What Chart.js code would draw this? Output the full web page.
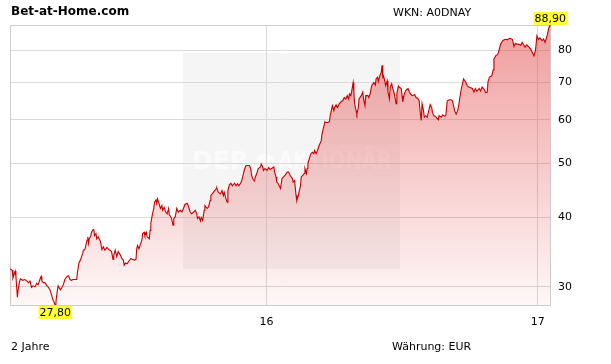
<!DOCTYPE html>
<html>
<head>
<meta charset="utf-8">
<script src="https://cdn.jsdelivr.net/npm/chart.js@4"></script>
<style>
  body { margin: 0; background: #fff; }
</style>
</head>
<body>
<canvas id="myChart" width="611" height="364"></canvas>
<script>
// day number counted from 1 Jan 2015
var days = [
  19,22,23,26,27,29,30,32,33,36,
  39,42,44,46,48,50,53,55,57,60,
  61,62,64,66,69,71,73,75,77,78,
  80,81,83,84,87,89,91,93,96,98,
  100,102,104,107,109,110,112,114,117,118,
  120,123,124,125,126,128,129,131,132,133,
  135,136,138,141,143,145,147,150,152,154,
  156,158,159,161,163,165,168,170,172,173,
  175,177,179,182,184,187,189,190,191,193,
  195,197,198,200,201,203,204,207,208,209,
  211,213,214,216,217,218,220,222,224,225,
  227,229,231,233,234,236,237,239,240,242,
  244,246,249,251,253,255,258,260,262,264,
  267,269,271,272,274,276,277,279,281,282,
  285,287,289,290,292,295,297,298,300,303,
  305,307,308,310,312,313,315,317,319,322,
  324,326,328,331,333,334,335,337,339,342,
  344,345,347,349,350,352,354,357,358,360,
  361,363,366,368,370,372,375,376,378,379,
  381,384,386,388,390,393,395,397,400,401,
  403,404,405,406,408,409,411,412,414,416,
  417,419,420,421,423,425,427,429,430,432,
  434,436,439,440,442,444,445,448,450,451,
  453,454,456,457,459,461,463,466,468,470,
  472,474,476,477,479,481,482,483,484,486,
  487,489,490,493,495,496,498,499,502,503,
  505,507,510,512,513,515,516,518,520,521,
  522,523,525,526,528,529,531,532,534,535,
  537,538,540,541,543,544,547,548,549,551,
  553,556,558,560,562,565,567,569,571,573,
  574,575,577,578,580,582,584,586,588,589,
  591,593,595,597,598,601,603,605,607,609,
  612,614,616,619,621,623,624,626,628,629,
  631,634,636,638,643,645,647,649,652,654,
  656,659,661,663,664,666,669,671,672,675,
  677,679,681,684,686,688,690,692,694,697,
  699,701,703,705,708,710,712,714,716,719,
  721,723,726,728,730,732,734,737,739,741,
  744,746,748
];

var prices = [
  32.3,32.1,31.1,32.0,31.3,28.7,29.6,30.7,31.0,30.8,
  30.9,30.7,30.5,30.7,29.9,30.1,30.0,30.4,30.25,31.1,
  31.3,30.7,30.5,30.5,30.1,29.9,29.6,29.0,28.4,28.2,
  27.8,28.2,29.6,30.1,29.6,29.9,30.25,30.9,31.3,31.4,
  30.9,30.8,30.9,30.9,30.9,31.8,33.1,33.5,34.4,34.9,
  35.0,36.4,36.9,35.9,36.6,37.0,37.6,38.0,38.1,37.1,
  37.4,36.6,36.9,36.2,35.0,35.4,34.9,35.3,35.0,34.9,
  34.7,33.6,34.2,34.9,34.0,34.7,34.2,33.7,33.5,32.8,
  33.1,33.0,33.3,33.7,33.6,33.5,33.6,35.1,35.6,35.1,
  35.8,36.4,37.4,37.6,37.1,37.6,36.9,36.6,37.9,39.0,
  40.4,41.5,42.6,43.0,42.4,43.2,42.4,41.5,42.0,41.2,
  41.7,40.9,40.6,41.5,40.4,40.1,39.8,38.7,39.8,40.1,
  41.5,40.9,41.2,40.9,41.5,42.2,42.4,41.8,40.9,40.6,
  40.9,41.2,40.6,39.8,40.1,39.4,40.0,39.5,41.2,42.0,
  41.5,41.8,42.9,43.8,44.1,44.7,45.0,45.2,44.4,44.1,
  44.7,43.8,44.4,43.4,42.6,44.7,45.8,46.1,45.6,46.1,
  45.6,46.0,45.6,46.3,47.3,48.0,48.6,49.5,49.6,49.6,
  48.9,47.6,46.8,46.5,47.3,48.0,49.0,49.3,49.9,49.3,
  48.6,49.0,48.6,49.2,48.8,49.0,49.3,48.3,47.3,46.3,
  46.0,45.1,47.0,47.3,47.6,48.3,48.3,47.6,47.0,46.3,
  46.6,45.1,43.8,42.9,43.8,44.4,45.6,47.3,47.6,48.0,
  49.0,48.0,49.0,50.1,51.1,52.1,52.4,52.1,52.8,52.1,
  52.8,53.9,55.0,56.5,58.0,59.5,59.3,59.3,59.5,61.0,
  62.7,63.6,62.3,63.1,63.8,63.1,64.0,64.7,64.9,65.8,
  65.4,66.3,65.4,66.8,66.3,68.7,70.0,67.3,64.1,62.3,
  61.4,63.1,65.4,66.3,67.3,65.4,63.6,66.3,66.3,65.8,
  66.8,69.1,70.0,69.3,71.1,71.6,70.3,72.0,73.1,75.2,
  71.6,72.0,70.1,69.1,70.5,67.3,65.4,68.7,69.7,68.7,
  67.3,66.3,64.1,66.8,69.0,68.7,68.3,66.3,64.6,66.8,
  67.7,68.3,67.3,66.6,66.3,66.6,65.8,65.6,64.9,61.0,
  59.8,64.1,62.3,60.6,61.0,60.6,62.3,63.9,63.1,61.9,
  61.0,60.9,60.4,60.0,61.0,60.6,61.2,60.9,61.0,64.9,
  65.2,65.2,64.9,62.3,61.4,62.3,63.1,65.8,68.3,69.1,
  71.1,70.1,69.1,68.7,68.3,67.3,68.3,67.5,68.3,67.6,
  68.7,68.0,67.1,67.3,70.3,71.6,72.0,73.8,77.2,78.4,
  78.6,80.1,82.2,83.4,83.6,83.8,83.6,84.0,84.1,83.7,
  81.3,82.4,82.1,82.1,81.7,82.7,81.9,81.1,81.9,81.2,
  80.6,79.7,78.2,79.9,85.0,83.7,84.3,83.3,83.9,82.7,
  85.3,87.8,88.9
];

var xTickDays = [365, 731];
var xTickLabels = ['16', '17'];
var yTicks = [30, 40, 50, 60, 70, 80];

var title = 'Bet-at-Home.com';
var wkn = 'WKN: A0DNAY';
var period = '2 Jahre';
var currency = 'Währung: EUR';

var points = days.map(function(d, i){
    return {x: d, y: prices[i]};
});

var minValue = Math.min.apply(null, prices);
var maxValue = Math.max.apply(null, prices);

function fmt(v) {
    return v.toFixed(2).replace('.', ',');
}

var font = '"DejaVu Sans", Verdana, sans-serif';

// grey box with the faint watermark behind the grid
var watermark = {
    id: 'watermark',
    beforeDraw: function(chart) {
        var c = chart.ctx;
        c.save();
        c.fillStyle = '#f5f5f5';
        c.fillRect(183, 53, 217, 216);
        c.fillStyle = 'rgba(255,255,255,0.6)';
        c.font = 'bold 25px ' + font;
        c.textBaseline = 'middle';
        c.fillText('DER', 192, 162);
        c.beginPath();
        c.arc(265, 162, 9, Math.PI, 0);
        c.fill();
        c.fillText('AKTIONÄR', 278, 162, 114);
        c.restore();
    }
};

var frame = {
    id: 'frame',
    beforeDatasetsDraw: function(chart) {
        var a = chart.chartArea;
        var c = chart.ctx;
        c.save();
        c.strokeStyle = '#cccccc';
        c.lineWidth = 1;
        c.strokeRect(Math.round(a.left) + 0.5, Math.round(a.top) + 0.5,
            Math.round(a.right - a.left) - 1, Math.round(a.bottom - a.top));
        c.restore();
    }
};

// yellow boxes at high and low, plus header and footer texts
var labels = {
    id: 'labels',
    afterDraw: function(chart) {
        var c = chart.ctx;
        var a = chart.chartArea;
        var xs = chart.scales.x;
        c.save();
        c.font = '11px ' + font;
        c.textBaseline = 'middle';
        c.textAlign = 'center';

        var hi = prices.indexOf(maxValue);
        var lo = prices.indexOf(minValue);
        var hx = xs.getPixelForValue(days[hi]);
        var lx = xs.getPixelForValue(days[lo]);

        var t = fmt(maxValue);
        var w = c.measureText(t).width + 2;
        c.fillStyle = '#ffff33';
        c.fillRect(hx - w / 2, a.top - 13, w, 13);
        c.fillStyle = '#000';
        c.fillText(t, hx, a.top - 6);

        t = fmt(minValue);
        w = c.measureText(t).width + 2;
        c.fillStyle = '#ffff33';
        c.fillRect(lx - w / 2, a.bottom + 1, w, 13);
        c.fillStyle = '#000';
        c.fillText(t, lx, a.bottom + 8);

        c.textAlign = 'left';
        c.fillStyle = '#000';
        c.fillText(wkn, 393, 13);
        c.fillText(period, 11, 347);
        c.fillText(currency, 392, 347);
        c.font = 'bold 12px ' + font;
        c.fillText(title, 11, 12);
        c.restore();
    }
};

const ctx = document.getElementById('myChart').getContext('2d');
const myChart = new Chart(ctx, {
    type: 'line',
    data: {
        datasets: [{
            data: points,
            borderColor: '#c40000',
            borderWidth: 1.1,
            pointRadius: 0,
            tension: 0,
            fill: 'start',
            backgroundColor: function(context) {
                var a = context.chart.chartArea;
                if (!a) return 'rgba(225,60,60,0.2)';
                var g = context.chart.ctx.createLinearGradient(0, a.top, 0, a.bottom);
                g.addColorStop(0, 'rgba(225,60,60,0.5)');
                g.addColorStop(1, 'rgba(225,60,60,0.04)');
                return g;
            }
        }]
    },
    options: {
        responsive: false,
        animation: false,
        devicePixelRatio: 1,
        layout: {
            padding: {left: 10, top: 25, right: 0, bottom: 0}
        },
        scales: {
            x: {
                type: 'linear',
                min: 19,
                max: 749,
                afterFit: function(scale) { scale.height = 59; },
                afterBuildTicks: function(scale) {
                    scale.ticks = xTickDays.map(function(v){ return {value: v}; });
                },
                grid: {
                    color: '#d9d9d9',
                    drawTicks: false
                },
                border: { display: false },
                ticks: {
                    padding: 11,
                    maxRotation: 0,
                    color: '#000',
                    font: { family: font, size: 11 },
                    callback: function(v) {
                        return xTickLabels[xTickDays.indexOf(v)];
                    }
                }
            },
            y: {
                type: 'logarithmic',
                position: 'right',
                min: minValue,
                max: maxValue,
                afterFit: function(scale) { scale.width = 60; },
                afterBuildTicks: function(scale) {
                    scale.ticks = yTicks.map(function(v){ return {value: v}; });
                },
                grid: {
                    color: '#d9d9d9',
                    drawTicks: false
                },
                border: { display: false },
                ticks: {
                    padding: 7,
                    color: '#000',
                    font: { family: font, size: 11 },
                    callback: function(v) { return String(v); }
                }
            }
        },
        plugins: {
            legend: { display: false },
            tooltip: { enabled: false }
        }
    },
    plugins: [watermark, frame, labels]
});
</script>
</body>
</html>
